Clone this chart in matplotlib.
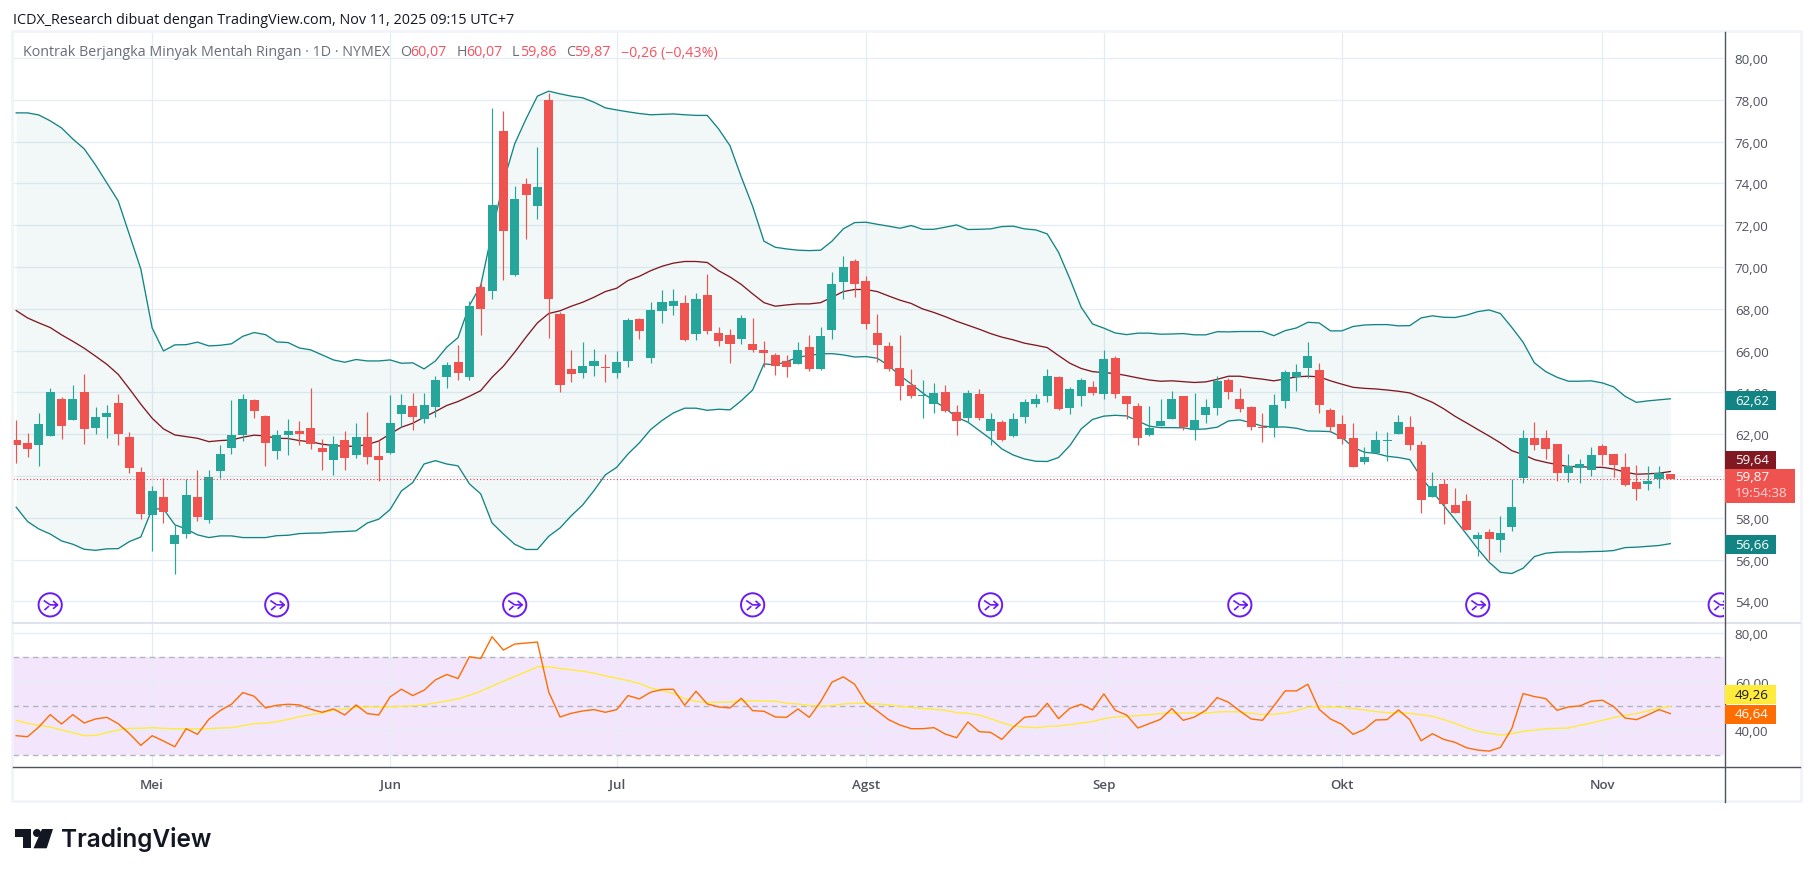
import matplotlib
matplotlib.use("Agg")
import matplotlib.pyplot as plt
from matplotlib.patches import Rectangle, Polygon, Circle
from matplotlib.path import Path
import numpy as np

opens = [61.72, 61.58, 61.48, 61.91, 63.68, 62.68, 64.02, 62.30, 62.82, 63.49,
         61.87, 60.19, 58.13, 59.00, 56.75, 57.22, 59.00, 57.89, 60.24, 61.34,
         61.96, 63.64, 62.87, 61.20, 61.96, 62.15, 62.30, 61.34, 60.77, 61.72,
         61.00, 61.87, 60.96, 61.10, 62.97, 63.35, 62.73, 63.30, 64.74, 65.45,
         64.74, 69.04, 68.85, 76.51, 69.62, 73.97, 72.92, 77.99, 67.75, 65.12,
         64.93, 65.26, 65.17, 64.93, 65.50, 67.51, 65.65, 67.90, 68.13, 68.28,
         66.79, 68.66, 66.84, 66.75, 66.56, 66.32, 66.03, 65.79, 65.50, 65.36,
         66.17, 65.12, 66.99, 69.28, 70.29, 69.33, 66.84, 66.22, 65.17, 64.35,
         63.84, 63.45, 64.02, 63.06, 62.78, 63.92, 62.15, 62.58, 61.91, 62.82,
         63.45, 63.83, 64.74, 63.25, 63.83, 64.26, 63.92, 65.65, 63.83, 63.35,
         61.96, 62.39, 62.73, 63.83, 62.20, 62.92, 63.25, 64.59, 63.68, 63.30,
         62.30, 62.30, 63.59, 64.74, 65.17, 65.07, 63.16, 62.49, 61.82, 60.67,
         61.10, 61.69, 62.01, 62.34, 61.48, 59.00, 59.62, 58.61, 58.80, 56.99,
         57.32, 56.94, 57.56, 59.90, 61.82, 61.82, 61.53, 60.14, 60.38, 60.29,
         61.44, 61.05, 60.43, 59.71, 59.62, 59.86, 60.07]

highs = [62.68, 62.06, 63.01, 64.21, 63.78, 64.35, 64.88, 63.30, 63.40, 63.92,
         62.11, 60.43, 59.52, 59.90, 57.66, 59.86, 60.29, 60.29, 61.48, 63.64,
         63.92, 63.68, 62.92, 62.20, 62.73, 62.63, 64.21, 61.77, 61.91, 62.15,
         62.54, 63.06, 61.72, 63.88, 63.92, 63.97, 63.97, 64.79, 65.45, 66.27,
         68.37, 69.28, 77.61, 77.46, 73.88, 74.26, 75.74, 78.33, 67.85, 66.03,
         66.41, 66.08, 65.84, 65.98, 67.56, 67.56, 68.33, 68.90, 68.95, 68.66,
         68.76, 69.67, 67.13, 67.03, 67.70, 67.56, 66.46, 65.89, 65.79, 66.41,
         66.75, 67.13, 69.76, 70.53, 70.38, 69.57, 67.75, 66.41, 66.75, 65.12,
         64.59, 64.45, 64.35, 63.40, 64.11, 64.16, 63.01, 62.68, 63.01, 63.68,
         63.92, 65.12, 64.79, 64.26, 64.69, 64.55, 66.03, 65.74, 63.83, 63.49,
         63.35, 63.68, 64.07, 63.83, 63.97, 63.68, 64.79, 64.69, 64.21, 63.35,
         63.01, 63.92, 65.07, 65.36, 66.41, 65.41, 63.25, 62.92, 62.54, 61.39,
         62.15, 62.11, 62.92, 62.87, 61.67, 60.19, 59.86, 59.43, 59.14, 57.32,
         57.46, 58.09, 59.86, 62.20, 62.58, 62.20, 61.53, 61.05, 60.81, 61.39,
         61.53, 61.05, 61.10, 60.53, 60.48, 60.48, 60.07]

lows = [60.62, 60.91, 60.48, 61.91, 61.77, 62.68, 61.53, 62.01, 61.82, 61.48,
        60.14, 57.94, 56.41, 57.75, 55.31, 57.03, 57.85, 57.75, 59.90, 61.05,
        61.69, 62.78, 60.48, 60.81, 61.00, 61.48, 61.29, 60.29, 60.05, 60.29,
        60.86, 60.57, 59.76, 61.05, 62.34, 62.20, 62.54, 62.82, 64.21, 64.59,
        64.59, 66.75, 68.47, 69.38, 69.57, 71.34, 72.30, 66.60, 64.02, 64.50,
        64.69, 64.79, 64.50, 64.69, 65.22, 66.56, 65.41, 67.32, 67.70, 66.46,
        66.51, 66.79, 66.22, 65.41, 66.32, 65.93, 65.22, 64.83, 64.74, 65.36,
        65.02, 65.07, 66.56, 68.47, 68.57, 67.03, 65.45, 65.02, 63.64, 63.73,
        62.78, 63.01, 63.06, 61.96, 62.58, 62.68, 61.48, 61.67, 61.87, 62.54,
        63.30, 63.54, 63.16, 62.97, 63.35, 63.88, 63.68, 63.73, 62.73, 61.48,
        61.91, 62.39, 62.73, 62.20, 61.72, 62.54, 62.92, 63.68, 63.06, 62.20,
        61.63, 61.87, 63.25, 64.07, 64.69, 63.01, 62.11, 61.53, 60.43, 60.57,
        61.10, 60.72, 62.01, 61.24, 58.23, 59.00, 57.70, 58.23, 57.42, 56.17,
        55.98, 56.36, 57.37, 59.67, 61.24, 60.81, 59.76, 59.71, 59.67, 60.00,
        60.53, 59.95, 59.52, 58.85, 59.33, 59.43, 59.86]

closes = [61.48, 61.29, 62.49, 64.02, 62.39, 63.68, 62.25, 62.82, 63.01, 62.01,
          60.38, 58.18, 59.28, 58.28, 57.18, 59.09, 58.04, 59.95, 61.05, 61.96,
          63.68, 63.11, 61.58, 61.96, 62.15, 62.01, 61.53, 61.15, 61.53, 60.86,
          61.87, 60.91, 60.77, 62.54, 63.40, 62.82, 63.40, 64.59, 65.31, 64.93,
          68.13, 67.99, 72.97, 71.72, 73.25, 73.45, 73.83, 68.47, 64.35, 64.88,
          65.26, 65.50, 65.14, 65.45, 67.46, 66.94, 67.94, 68.33, 68.37, 66.51,
          68.47, 66.94, 66.46, 66.32, 67.56, 66.03, 65.89, 65.26, 65.22, 66.03,
          65.12, 66.70, 69.19, 70.00, 69.19, 67.27, 66.27, 65.12, 64.31, 63.83,
          63.88, 63.97, 63.11, 62.63, 63.97, 62.78, 62.73, 61.72, 62.73, 63.54,
          63.68, 64.79, 63.21, 64.16, 64.59, 63.97, 65.60, 63.92, 63.45, 61.82,
          62.30, 62.63, 63.68, 62.34, 62.68, 63.30, 64.55, 64.02, 63.21, 62.34,
          62.27, 63.40, 64.98, 64.98, 65.74, 63.40, 62.34, 61.77, 60.43, 60.91,
          61.72, 61.72, 62.58, 61.48, 58.85, 59.52, 58.66, 58.23, 57.42, 57.18,
          56.99, 57.27, 58.52, 61.82, 61.48, 61.29, 60.14, 60.48, 60.57, 61.00,
          61.00, 60.53, 59.57, 59.38, 59.76, 60.14, 59.87]

bb_upper = [77.37, 77.37, 77.27, 76.99, 76.65, 76.12, 75.65, 74.88, 74.02, 73.16,
            71.53, 69.90, 67.08, 65.98, 66.27, 66.28, 66.40, 66.22, 66.25, 66.32,
            66.68, 66.86, 66.76, 66.41, 66.38, 66.12, 66.03, 65.79, 65.55, 65.44,
            65.57, 65.50, 65.50, 65.55, 65.39, 65.41, 65.12, 65.50, 66.16, 66.62,
            68.15, 69.11, 71.66, 74.05, 75.89, 77.08, 78.17, 78.41, 78.28, 78.17,
            78.09, 77.88, 77.61, 77.51, 77.42, 77.34, 77.28, 77.30, 77.32, 77.28,
            77.25, 77.25, 76.60, 75.80, 74.30, 72.90, 71.23, 70.94, 70.86, 70.80,
            70.78, 70.80, 71.23, 71.82, 72.12, 72.14, 72.04, 71.95, 71.85, 71.98,
            71.80, 71.80, 71.90, 72.01, 71.79, 71.80, 71.82, 71.93, 71.95, 71.82,
            71.77, 71.58, 70.70, 69.43, 68.07, 67.27, 67.07, 66.84, 66.76, 66.83,
            66.83, 66.78, 66.79, 66.81, 66.75, 66.75, 66.90, 66.89, 66.91, 66.91,
            66.91, 66.71, 66.95, 67.08, 67.35, 67.32, 66.94, 66.94, 67.15, 67.22,
            67.24, 67.24, 67.18, 67.19, 67.56, 67.66, 67.59, 67.58, 67.69, 67.86,
            67.94, 67.77, 67.11, 66.40, 65.41, 64.99, 64.72, 64.53, 64.53, 64.55,
            64.45, 64.26, 63.81, 63.52, 63.59, 63.64, 63.69]

bb_basis = [67.91, 67.56, 67.32, 67.10, 66.75, 66.44, 66.11, 65.73, 65.34, 64.86,
            64.16, 63.43, 62.76, 62.25, 61.96, 61.88, 61.80, 61.64, 61.69, 61.72,
            61.85, 61.95, 61.91, 61.80, 61.79, 61.69, 61.63, 61.52, 61.45, 61.42,
            61.42, 61.50, 61.67, 62.01, 62.33, 62.52, 62.81, 63.08, 63.37, 63.56,
            63.81, 64.08, 64.72, 65.25, 65.92, 66.64, 67.32, 67.77, 67.90, 68.12,
            68.31, 68.55, 68.82, 68.98, 69.35, 69.55, 69.82, 70.03, 70.18, 70.26,
            70.26, 70.21, 69.82, 69.52, 69.16, 68.71, 68.29, 68.12, 68.18, 68.23,
            68.23, 68.29, 68.55, 68.82, 68.92, 68.92, 68.82, 68.61, 68.41, 68.25,
            67.99, 67.82, 67.62, 67.40, 67.21, 67.02, 66.81, 66.64, 66.51, 66.35,
            66.25, 66.14, 65.76, 65.39, 65.14, 64.99, 64.94, 64.90, 64.80, 64.69,
            64.59, 64.53, 64.55, 64.51, 64.47, 64.50, 64.62, 64.77, 64.77, 64.69,
            64.63, 64.55, 64.64, 64.74, 64.77, 64.74, 64.55, 64.39, 64.24, 64.19,
            64.16, 64.11, 64.05, 63.97, 63.75, 63.52, 63.21, 62.85, 62.54, 62.22,
            61.91, 61.58, 61.21, 61.02, 60.78, 60.65, 60.54, 60.45, 60.45, 60.41,
            60.41, 60.33, 60.18, 60.08, 60.10, 60.13, 60.21]

bb_lower = [58.50, 57.82, 57.46, 57.22, 56.89, 56.73, 56.49, 56.44, 56.51, 56.52,
            56.86, 57.08, 58.42, 58.42, 57.66, 57.46, 57.18, 57.05, 57.13, 57.13,
            57.05, 57.05, 57.05, 57.14, 57.16, 57.24, 57.26, 57.27, 57.32, 57.34,
            57.37, 57.75, 57.93, 58.39, 59.28, 59.68, 60.57, 60.73, 60.57, 60.48,
            59.62, 59.14, 57.75, 57.22, 56.73, 56.48, 56.48, 57.11, 57.51, 58.10,
            58.61, 59.30, 60.05, 60.41, 61.05, 61.58, 62.22, 62.65, 63.01, 63.24,
            63.24, 63.14, 63.19, 63.16, 63.60, 64.11, 65.36, 65.31, 65.47, 65.68,
            65.76, 65.84, 65.85, 65.79, 65.69, 65.71, 65.63, 65.28, 64.80, 64.40,
            63.97, 63.60, 63.24, 62.81, 62.57, 62.17, 61.77, 61.29, 61.00, 60.81,
            60.70, 60.69, 60.88, 61.45, 62.25, 62.70, 62.86, 62.90, 62.87, 62.63,
            62.38, 62.31, 62.31, 62.30, 62.22, 62.25, 62.33, 62.63, 62.68, 62.54,
            62.38, 62.34, 62.34, 62.28, 62.15, 62.14, 62.12, 61.85, 61.37, 61.13,
            61.08, 60.94, 60.88, 60.78, 59.94, 59.25, 58.58, 57.91, 57.22, 56.51,
            55.87, 55.39, 55.33, 55.58, 56.14, 56.30, 56.35, 56.36, 56.36, 56.38,
            56.39, 56.43, 56.57, 56.59, 56.63, 56.67, 56.76]

rsi = [37.77, 37.35, 41.34, 46.43, 42.58, 46.43, 42.99, 44.64, 45.33, 42.71,
       38.59, 33.78, 37.77, 35.57, 33.23, 40.65, 38.32, 44.50, 48.08, 50.69,
       55.50, 53.99, 49.18, 50.27, 50.69, 50.41, 48.63, 47.39, 48.76, 46.29,
       50.41, 46.84, 46.29, 53.71, 56.87, 54.26, 56.46, 60.72, 62.92, 61.27,
       70.21, 69.52, 78.45, 72.96, 75.43, 75.84, 76.26, 55.77, 45.46, 46.98,
       47.94, 48.49, 47.39, 48.49, 54.26, 52.89, 55.64, 56.74, 56.87, 50.27,
       56.05, 50.82, 49.59, 49.18, 53.16, 48.08, 47.80, 45.46, 45.33, 48.76,
       45.33, 51.79, 59.76, 61.96, 58.93, 51.37, 47.94, 44.36, 42.16, 40.65,
       40.65, 41.07, 38.45, 36.94, 43.40, 39.42, 39.14, 36.25, 41.20, 45.33,
       45.88, 51.10, 44.78, 49.04, 50.69, 48.35, 54.95, 48.21, 46.29, 40.93,
       42.71, 44.50, 48.90, 44.09, 45.46, 48.21, 53.44, 51.51, 47.94, 44.64,
       44.09, 50.00, 56.19, 56.19, 58.93, 48.63, 44.64, 42.44, 38.32, 40.38,
       44.23, 44.36, 48.35, 44.36, 35.70, 38.59, 36.25, 35.02, 32.82, 31.86,
       31.44, 32.95, 40.65, 55.09, 53.85, 53.02, 48.21, 49.59, 50.00, 51.92,
       52.34, 49.73, 45.05, 44.36, 46.29, 48.49, 46.84]

rsi_ma = [44.09, 42.85, 42.03, 41.34, 40.10, 39.00, 37.77, 37.90, 39.00, 40.10,
          40.79, 40.79, 41.07, 40.79, 40.65, 40.65, 40.52, 40.65, 40.93, 41.07,
          41.89, 42.71, 42.85, 43.54, 44.50, 45.60, 46.43, 47.11, 48.21, 48.76,
          49.31, 49.59, 49.59, 49.73, 49.86, 50.00, 50.41, 51.24, 52.06, 52.89,
          54.40, 56.05, 58.11, 60.17, 62.10, 64.02, 66.08, 66.08, 65.40, 64.85,
          64.30, 63.47, 62.37, 61.41, 60.45, 59.21, 57.42, 56.32, 55.09, 53.02,
          51.92, 51.37, 51.51, 51.65, 52.06, 52.06, 52.06, 51.92, 51.10, 50.82,
          50.14, 49.86, 50.14, 50.82, 51.10, 51.10, 50.82, 50.41, 49.86, 49.45,
          48.90, 48.63, 48.21, 47.25, 46.98, 46.29, 44.78, 43.13, 41.75, 41.34,
          41.07, 41.61, 41.75, 42.30, 42.99, 43.54, 44.78, 45.46, 45.74, 46.01,
          46.43, 46.84, 47.11, 47.11, 47.11, 46.98, 47.53, 47.66, 47.53, 46.98,
          46.43, 46.56, 47.11, 48.08, 49.45, 49.86, 49.59, 49.45, 48.90, 48.35,
          47.66, 47.25, 47.25, 46.98, 46.43, 45.74, 44.36, 42.85, 41.07, 39.55,
          38.73, 38.04, 38.59, 39.55, 40.10, 40.65, 40.79, 40.93, 42.03, 42.99,
          44.09, 45.19, 46.15, 46.84, 47.94, 49.18, 49.73]

month_bars = [12, 33, 53, 75, 96, 117, 140]
month_names = ["Mei", "Jun", "Jul", "Agst", "Sep", "Okt", "Nov"]
event_bars = [3, 23, 44, 65, 86, 108, 129, 150.4]
price_ticks = list(range(54, 82, 2))
rsi_ticks = [40, 60, 80]
rsi_levels = [30, 50, 70]

GREEN = "#26a69a"
RED = "#ef5350"
TEAL = "#138484"
MAROON = "#801922"
GRID = "#e4edf3"
AXIS = "#50535e"
BORDER = "#f0f3fa"
PURPLE = "#6a1bf5"
FONT = "Open Sans"
LOGO = "#131722"


def comma(v):
    return f"{v:.2f}".replace(".", ",")


def icon_path():
    # the little arrow inside the purple event circles
    verts = [(-0.62, 0.42), (0.0, 0.0), (0.72, 0.0), (0.28, 0.38), (0.72, 0.0), (0.28, -0.38),
             (-0.55, -0.5), (-0.12, -0.12)]
    codes = [Path.MOVETO, Path.LINETO, Path.LINETO, Path.MOVETO, Path.LINETO, Path.LINETO,
             Path.MOVETO, Path.LINETO]
    return Path(verts, codes)


def draw_price(ax, x):
    o, c = np.array(opens), np.array(closes)
    colors = [GREEN if cl >= op else RED for op, cl in zip(o, c)]
    ax.fill_between(x, bb_lower, bb_upper, color=TEAL, alpha=0.05, lw=0, zorder=1)
    ax.plot(x, bb_upper, color=TEAL, lw=0.95, zorder=2)
    ax.plot(x, bb_lower, color=TEAL, lw=0.95, zorder=2)
    ax.plot(x, bb_basis, color=MAROON, lw=0.95, zorder=2)
    ax.vlines(x, lows, highs, colors=colors, lw=0.85, zorder=3)
    heights = np.maximum(np.abs(c - o), 0.05)
    ax.bar(x, heights, bottom=np.minimum(o, c), width=0.8, color=colors, lw=0, zorder=4)
    ax.axhline(closes[-1], color="#f23645", lw=0.8, ls=(0, (1, 2)), zorder=5)
    event_y = [53.83] * len(event_bars)
    ax.scatter(event_bars, event_y, s=280, facecolors="none", edgecolors=PURPLE, linewidths=1.4, zorder=6)
    ax.scatter(event_bars, event_y, s=115, marker=icon_path(), facecolors="none", edgecolors=PURPLE,
               linewidths=1.2, zorder=6)


def style_axis(ax, ticks, xlim, ylim):
    ax.set_xlim(*xlim)
    ax.set_ylim(*ylim)
    ax.yaxis.tick_right()
    ax.set_yticks(ticks)
    ax.set_yticklabels([comma(t) for t in ticks], fontsize=9.6, color=AXIS, family=FONT, va="center_baseline")
    ax.tick_params(axis="y", length=0, pad=7.5)
    for s in ax.spines.values():
        s.set_visible(False)
    for t in ticks:
        ax.axhline(t, color=GRID, lw=0.95, zorder=0.5)
    for m in month_bars:
        ax.axvline(m, color=GRID, lw=0.95, zorder=0.5)


def box(ov, x0, x1, y0, y1, color):
    ov.add_patch(Rectangle((x0, y0), x1 - x0, y1 - y0, facecolor=color, edgecolor="none", zorder=3))


def draw_overlay(ov):
    # axis frame
    ov.add_patch(Rectangle((12, 32), 1788.5, 770.5, facecolor="none", edgecolor=BORDER, lw=1.8, zorder=1))
    ov.plot([13, 1800], [623.5, 623.5], color="#e0e3eb", lw=1.5, zorder=1)
    ov.plot([13, 1800], [768, 768], color=AXIS, lw=1.0, zorder=2)
    ov.plot([1724.5, 1724.5], [33, 803], color=AXIS, lw=1.0, zorder=2)

    # header and legend
    ov.text(13, 20, "ICDX_Research dibuat dengan TradingView.com, Nov 11, 2025 09:15 UTC+7",
            fontsize=10.4, color=LOGO, va="center", family=FONT)
    legend = [(23, "Kontrak Berjangka Minyak Mentah Ringan · 1D · NYMEX", "#6a6d78"),
              (400, "O", "#6a6d78"), (410.5, "60,07", "#f7525f"),
              (456.5, "H", "#6a6d78"), (466, "60,07", "#f7525f"),
              (512, "L", "#6a6d78"), (520, "59,86", "#f7525f"),
              (566, "C", "#6a6d78"), (574, "59,87", "#f7525f"),
              (621, "−0,26 (−0,43%)", "#f7525f")]
    for lx, s, col in legend:
        ov.text(lx, 53, s, fontsize=10.3, color=col, va="center", family=FONT)

    # last value labels on the scale
    labels = [(392, 411, TEAL, "62,62", "white"), (451.5, 470, MAROON, "59,64", "white"),
              (536, 554.5, TEAL, "56,66", "white"), (686, 704.5, "#ffeb3b", "49,26", LOGO),
              (705.5, 724.5, "#ff6d00", "46,64", "white")]
    for y0, y1, col, s, tc in labels:
        box(ov, 1725, 1775.5, y0, y1, col)
        ov.text(1735, (y0 + y1) / 2, s, fontsize=9.6, color=tc, va="center", family=FONT, zorder=4)
    box(ov, 1725, 1794.5, 470, 504, RED)
    ov.text(1735, 478, "59,87", fontsize=9.6, color="white", va="center", family=FONT, zorder=4)
    ov.text(1735, 494, "19:54:38", fontsize=9.6, color="#fcd5d5", va="center", family=FONT, zorder=4)

    # logo
    ov.add_patch(Polygon([(15, 830), (31, 830), (31, 849.3), (23, 849.3), (23, 838), (15, 838)],
                         facecolor=LOGO, edgecolor="none"))
    ov.add_patch(Circle((37, 834), 4, facecolor=LOGO, edgecolor="none"))
    ov.add_patch(Polygon([(42, 830), (53, 830), (46.7, 849.3), (33.5, 849.3)],
                         facecolor=LOGO, edgecolor="none"))
    ov.text(61.5, 840, "TradingView", fontsize=17.6, weight="semibold", color=LOGO, va="center", family="Inter")


def main():
    x = np.arange(len(closes))
    fig = plt.figure(figsize=(18.14, 8.78), dpi=100, facecolor="white")
    W, H = 1814.0, 878.0
    xlim = (-0.282, 150.77)

    ax = fig.add_axes([13 / W, (H - 623) / H, 1711.4 / W, 590 / H])
    style_axis(ax, price_ticks, xlim, (53.01, 81.24))
    draw_price(ax, x)
    ax.set_xticks([])

    ax2 = fig.add_axes([13 / W, (H - 768) / H, 1711.4 / W, 144.5 / H])
    style_axis(ax2, rsi_ticks, xlim, (24.9, 84.3))
    ax2.axhspan(rsi_levels[0], rsi_levels[2], facecolor="#f3e6fc", lw=0, zorder=0)
    for lv in rsi_levels:
        ax2.axhline(lv, color="#b2b5be", lw=1.0, ls=(0, (4, 3)), zorder=1)
    ax2.plot(x, rsi_ma, color="#ffeb3b", lw=1.0, zorder=2)
    ax2.plot(x, rsi, color="#ff6d00", lw=1.0, zorder=3)
    ax2.set_xticks(month_bars)
    ax2.set_xticklabels(month_names, fontsize=9.6, color=AXIS, family=FONT, weight="semibold")
    ax2.tick_params(axis="x", length=0, pad=8)

    ov = fig.add_axes([0, 0, 1, 1], zorder=10)
    ov.set_xlim(0, W)
    ov.set_ylim(H, 0)
    ov.axis("off")
    ov.patch.set_alpha(0)
    draw_overlay(ov)

    fig.savefig("out.png", dpi=100)


if __name__ == "__main__":
    main()
